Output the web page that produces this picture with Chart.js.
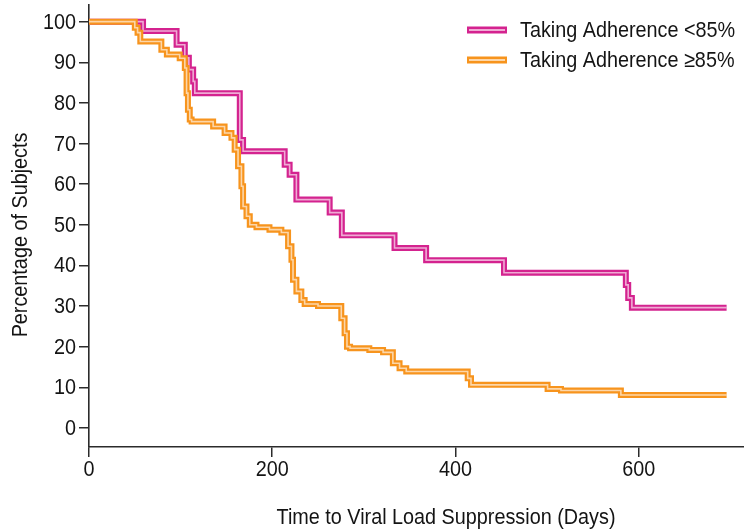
<!DOCTYPE html>
<html>
<head>
<meta charset="utf-8">
<script src="https://cdn.jsdelivr.net/npm/chart.js@4.4.1/dist/chart.umd.min.js"></script>
<style>
html,body{margin:0;padding:0;background:#fff;}
#wrap{width:744px;height:532px;position:relative;}
</style>
</head>
<body>
<div id="wrap"><canvas id="c"></canvas></div>
<script>
// ---- data ----
const seriesNames = ['Taking Adherence <85%', 'Taking Adherence \u226585%'];
const lowDays = [0, 59, 95.6, 104.6, 109, 113.7, 115.5, 164.6, 168.2, 213.6, 219, 226.4, 262.7, 276, 333.5, 368, 453, 586, 588.6, 592.6, 696];
const lowPct  = [100, 97.7, 94.3, 91.1, 88.2, 85.3, 82.4, 70.9, 68.1, 64.8, 62.3, 56.2, 53.0, 47.4, 44.3, 41.3, 38.2, 35.2, 32.0, 29.6, 29.6];
const highDays = [0, 50, 53, 56, 79, 85, 99, 104.6, 106.5, 108, 110, 112, 135.5, 148, 155.5, 159, 162.7, 166.4, 168.2, 171.9, 175.5, 182.8, 197, 210, 217.3, 221, 222.7, 226.4, 231.8, 235.4, 250, 275.4, 279, 281.6, 285, 306, 321, 331.7, 339, 346.3, 413.4, 417, 500.6, 515.2, 580.6, 696];
const highPct  = [100, 98.5, 97.3, 95.1, 93.1, 91.9, 91.0, 88.6, 82.4, 78.3, 75.9, 75.4, 74.2, 72.6, 71.4, 68.5, 64.4, 59.5, 54.5, 52.1, 50.0, 49.4, 48.8, 48.1, 44.7, 41.4, 36.5, 33.6, 31.5, 30.5, 30.0, 27.0, 23.3, 20.0, 19.6, 19.2, 18.6, 15.9, 14.7, 13.9, 12.2, 10.6, 9.6, 9.2, 8.1, 8.1];
const xTicks = [0, 200, 400, 600];
const yTicks = [0, 10, 20, 30, 40, 50, 60, 70, 80, 90, 100];
const xTitle = 'Time to Viral Load Suppression (Days)';
const yTitle = 'Percentage of Subjects';

// ---- styles ----
const MAGENTA = '#d4238f';
const ORANGE = '#f7941d';
const CENTER = 'rgba(255,255,255,0.62)';
const FONT = "'Liberation Sans', Arial, sans-serif";
const FSIZE = 22;      // drawn with horizontal squeeze to mimic a condensed face
const SQUEEZE = 0.9;
const TXT = '#141414';
const AXIS = '#2b2b2b';

const pts = (xs, ys) => xs.map((x, i) => ({x: x, y: ys[i]}));

function lineDs(label, xs, ys, color, width, order) {
  return {
    label: label, data: pts(xs, ys), borderColor: color, borderWidth: width,
    stepped: true, pointRadius: 0, fill: false, order: order,
    borderCapStyle: 'butt', borderJoinStyle: 'miter'
  };
}

function condText(ctx, text, x, y, align) {
  ctx.save();
  ctx.translate(x, y);
  ctx.scale(SQUEEZE, 1);
  ctx.textAlign = align;
  ctx.fillText(text, 0, 0);
  ctx.restore();
}

const decorPlugin = {
  id: 'decor',
  afterDraw(chart) {
    const ctx = chart.ctx;
    const xs = chart.scales.x, ys = chart.scales.y;
    ctx.save();
    ctx.fillStyle = TXT;
    ctx.font = FSIZE + 'px ' + FONT;
    ctx.textBaseline = 'middle';
    // tick labels
    yTicks.forEach(v => condText(ctx, String(v), 76, ys.getPixelForValue(v) + 1, 'right'));
    xTicks.forEach(v => condText(ctx, String(v), xs.getPixelForValue(v), 470, 'center'));
    // legend
    const items = [
      {label: seriesNames[0], color: MAGENTA, y: 30},
      {label: seriesNames[1], color: ORANGE, y: 60}
    ];
    items.forEach(it => {
      ctx.fillStyle = it.color;
      ctx.fillRect(467, it.y - 3.5, 40, 7);
      ctx.fillStyle = CENTER;
      ctx.fillRect(469, it.y - 1, 36, 2);
      ctx.fillStyle = TXT;
      condText(ctx, it.label, 520, it.y + 1, 'left');
    });
    // axis titles
    condText(ctx, xTitle, 446, 518, 'center');
    ctx.translate(21, 235);
    ctx.rotate(-Math.PI / 2);
    condText(ctx, yTitle, 0, 0, 'center');
    ctx.restore();
  }
};

new Chart(document.getElementById('c'), {
  type: 'line',
  data: {
    datasets: [
      lineDs(seriesNames[0], lowDays, lowPct, MAGENTA, 6, 4),
      lineDs(seriesNames[0] + ' center', lowDays, lowPct, CENTER, 1.6, 3),
      lineDs(seriesNames[1], highDays, highPct, ORANGE, 6, 2),
      lineDs(seriesNames[1] + ' center', highDays, highPct, CENTER, 1.6, 1)
    ]
  },
  options: {
    responsive: true,
    maintainAspectRatio: false,
    animation: false,
    layout: {padding: {top: 5, right: 0, left: 0, bottom: 0}},
    plugins: {legend: {display: false}, tooltip: {enabled: false}},
    scales: {
      x: {
        type: 'linear', min: 0, max: 715,
        afterBuildTicks: s => { s.ticks = xTicks.map(v => ({value: v})); },
        afterFit: s => { s.height = 85; s.paddingLeft = 0; s.paddingRight = 0; },
        grid: {drawOnChartArea: false, drawTicks: true, tickLength: 10, color: AXIS, lineWidth: 1.5},
        border: {display: true, color: AXIS, width: 1.6},
        ticks: {display: false}
      },
      y: {
        type: 'linear', min: -4.7, max: 104.1,
        afterBuildTicks: s => { s.ticks = yTicks.map(v => ({value: v})); },
        afterFit: s => { s.width = 89; s.paddingTop = 0; s.paddingBottom = 0; },
        grid: {drawOnChartArea: false, drawTicks: true, tickLength: 10, color: AXIS, lineWidth: 1.5},
        border: {display: true, color: AXIS, width: 1.6},
        ticks: {display: false}
      }
    }
  },
  plugins: [decorPlugin]
});
</script>
</body>
</html>
